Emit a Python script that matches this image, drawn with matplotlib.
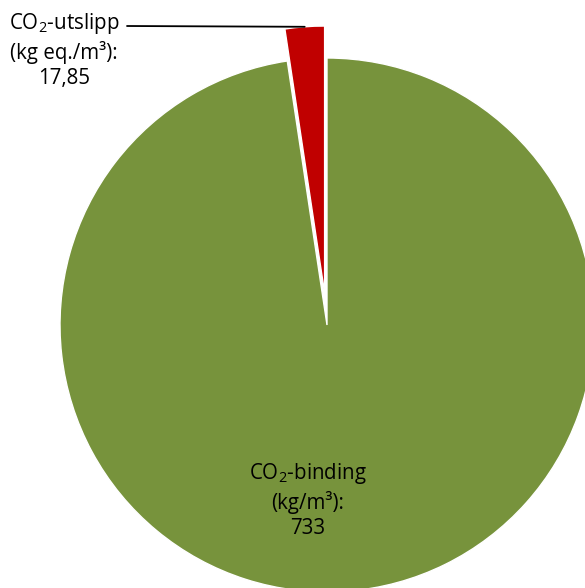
import numpy as np
import matplotlib
matplotlib.use("Agg")
import matplotlib.pyplot as plt

# CO2-regnskap per m3
categories = ["CO$_2$-utslipp", "CO$_2$-binding"]
values = [17.85, 733]
value_labels = ["17,85", "733"]
units = ["(kg eq./m³):", "(kg/m³):"]
colors = ["#C00000", "#77933C"]

plt.rcParams["font.family"] = ["Open Sans", "DejaVu Sans"]
plt.rcParams["mathtext.default"] = "regular"

W, H, DPI = 585, 588, 100
R_PX = 267.0          # pie radius in pixels
CX, CY = 327.0, 325.0  # pie centre in pixels (from top-left)
EXPLODE = 0.12

fig = plt.figure(figsize=(W / DPI, H / DPI), dpi=DPI)
ax = fig.add_axes([0, 0, 1, 1])

wedges, _ = ax.pie(
	values,
	colors=colors,
	startangle=90,
	explode=[EXPLODE, 0],
	radius=1.0,
	wedgeprops=dict(edgecolor="white", linewidth=1),
)

ax.set_xlim(-CX / R_PX, (W - CX) / R_PX)
ax.set_ylim(-(H - CY) / R_PX, CY / R_PX)
ax.set_aspect("auto")
ax.axis("off")

# leader line to the outer edge of the exploded slice
frac = values[0] / sum(values)
mid = np.deg2rad(90 + 360 * frac / 2)
end = ((1 + EXPLODE) * np.cos(mid), (1 + EXPLODE) * np.sin(mid))
start = ((127 - CX) / R_PX, (CY - 26) / R_PX)
ax.annotate("", xy=end, xytext=start,
	arrowprops=dict(arrowstyle="-", color="black", lw=1.3, shrinkA=0, shrinkB=0))

ax.text((64 - CX) / R_PX, (CY - 50) / R_PX,
	f"{categories[0]}\n{units[0]}\n{value_labels[0]}",
	ha="center", va="center", fontsize=14.8, linespacing=1.25, color="black")

ax.text((308 - CX) / R_PX, (CY - 500) / R_PX,
	f"{categories[1]}\n{units[1]}\n{value_labels[1]}",
	ha="center", va="center", fontsize=14.8, linespacing=1.25, color="black")

fig.savefig("out.png", dpi=DPI)
